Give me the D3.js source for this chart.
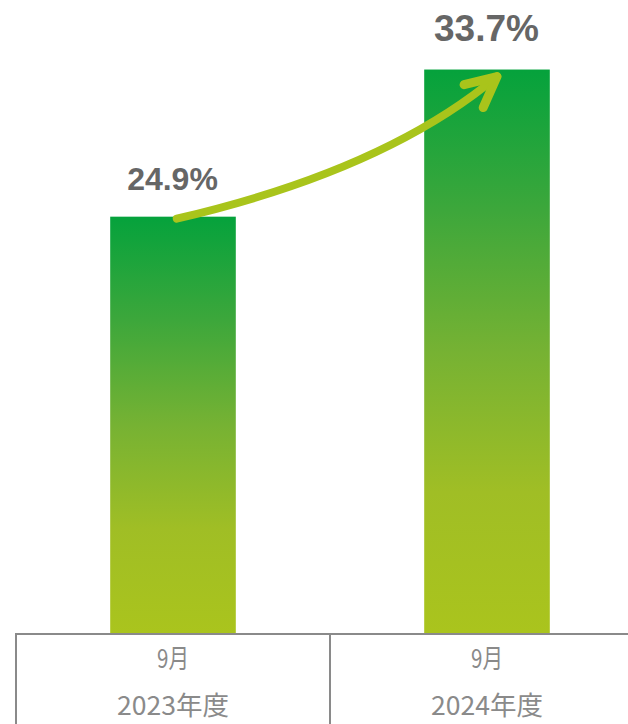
<!DOCTYPE html>
<html><head><meta charset="utf-8">
<script src="https://cdn.jsdelivr.net/npm/d3@7"></script>
<style>html,body{margin:0;padding:0;background:#fff;overflow:hidden}</style>
</head><body>
<svg id="c" width="628" height="724"></svg>
<script>
const categories = ["2023", "2024"];
const monthLabels = ["9月", "9月"];
const yearLabels = ["2023年度", "2024年度"];
const values = [24.9, 33.7];
const valueLabels = ["24.9%", "33.7%"];

const svg = d3.select("#c");
const W = 628, H = 724;
const baseY = 633;

const x = d3.scaleBand().domain(categories).range([16, 644]).paddingInner(0.6).paddingOuter(0.3);
const y = d3.scaleLinear().domain([0, 35]).range([baseY, baseY - 16.72 * 35]);

const defs = svg.append("defs");
const grad = defs.append("linearGradient").attr("id", "g").attr("x1", 0).attr("y1", 0).attr("x2", 0).attr("y2", 1);
[["0%", "#05a23c"], ["25%", "#3da73b"], ["50%", "#76b233"], ["75%", "#a0be25"], ["100%", "#aac41d"]]
  .forEach(([o, col]) => grad.append("stop").attr("offset", o).attr("stop-color", col));

svg.selectAll("rect.bar").data(values).join("rect")
  .attr("class", "bar")
  .attr("x", (d, i) => x(categories[i]))
  .attr("width", x.bandwidth())
  .attr("y", d => y(d))
  .attr("height", d => y(0) - y(d))
  .attr("fill", "url(#g)");

// value labels
const labelSizes = [32, 37];
const labelOff = [27, 29];
svg.selectAll("text.val").data(values).join("text")
  .attr("class", "val")
  .attr("x", (d, i) => x(categories[i]) + x.bandwidth() / 2 - 0.5)
  .attr("y", (d, i) => y(d) - labelOff[i])
  .attr("text-anchor", "middle")
  .attr("font-family", "Liberation Sans, Arial, sans-serif")
  .attr("font-weight", "bold")
  .attr("font-size", (d, i) => labelSizes[i])
  .attr("fill", "#666666")
  .text((d, i) => valueLabels[i]);

// arrow
const bw = x.bandwidth();
const s = [x(categories[0]) + 0.53 * bw, y(values[0]) + 2];
const e = [x(categories[1]) + 0.58 * bw, y(values[1]) + 7];
const c = [s[0] + 0.65 * (e[0] - s[0]), s[1] - 0.34 * (s[1] - e[1])];
const arrowColor = "#a9c41b";
svg.append("path")
  .attr("d", `M${s[0]},${s[1]} Q${c[0]},${c[1]} ${e[0]},${e[1]}`)
  .attr("fill", "none").attr("stroke", arrowColor).attr("stroke-width", 8).attr("stroke-linecap", "round");
const back = Math.atan2(c[1] - e[1], c[0] - e[0]);
const L = 34, da = 26 * Math.PI / 180;
const a1 = [e[0] + L * Math.cos(back + da), e[1] + L * Math.sin(back + da)];
const a2 = [e[0] + L * Math.cos(back - da), e[1] + L * Math.sin(back - da)];
svg.append("path")
  .attr("d", `M${a1[0]},${a1[1]} L${e[0]},${e[1]} L${a2[0]},${a2[1]}`)
  .attr("fill", "none").attr("stroke", arrowColor).attr("stroke-width", 9)
  .attr("stroke-linecap", "round").attr("stroke-linejoin", "round");

// table
const lineColor = "#8a8a8a";
svg.append("line").attr("x1", 16).attr("x2", W).attr("y1", baseY + 1).attr("y2", baseY + 1)
  .attr("stroke", lineColor).attr("stroke-width", 2);
const step = x.step();
const colEdges = [16, 16 + step];
svg.selectAll("line.v").data(colEdges).join("line").attr("class", "v")
  .attr("x1", d => d).attr("x2", d => d).attr("y1", baseY).attr("y2", H)
  .attr("stroke", lineColor).attr("stroke-width", 2);

const colCenter = i => 16 + step * (i + 0.5);
svg.selectAll("text.m").data(monthLabels).join("text").attr("class", "m")
  .attr("x", (d, i) => colCenter(i)).attr("y", 668)
  .attr("text-anchor", "middle")
  .attr("font-family", "Noto Sans CJK JP, sans-serif")
  .attr("font-size", 26).attr("fill", "#8a8a8a")
  .attr("textLength", 32).attr("lengthAdjust", "spacingAndGlyphs")
  .text(d => d);
svg.selectAll("text.yr").data(yearLabels).join("text").attr("class", "yr")
  .attr("x", (d, i) => colCenter(i)).attr("y", 715)
  .attr("text-anchor", "middle")
  .attr("font-family", "Noto Sans CJK JP, sans-serif")
  .attr("font-size", 26).attr("fill", "#8a8a8a")
  .attr("textLength", 112).attr("lengthAdjust", "spacingAndGlyphs")
  .text(d => d);
</script>
</body></html>
